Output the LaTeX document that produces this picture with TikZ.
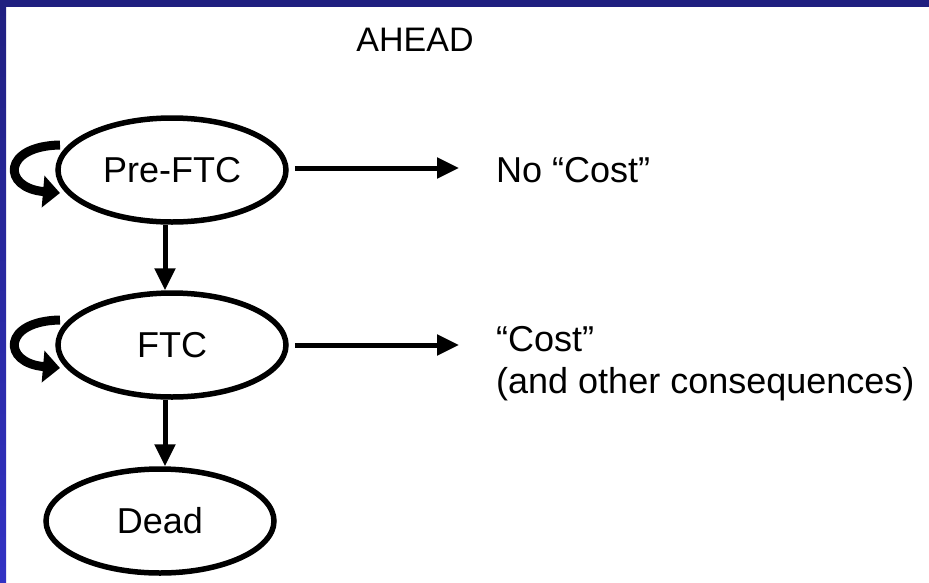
\documentclass[tikz,border=0pt]{standalone}
\usepackage{fontspec}
\setmainfont{Liberation Sans}
\usetikzlibrary{arrows.meta,shapes.geometric}
\definecolor{bandtop}{HTML}{1F1F80}
\definecolor{bandbot}{HTML}{3232C4}
\begin{document}
\begin{tikzpicture}[x=1pt,y=-1pt,
  state/.style={ellipse,draw,line width=5.5pt,minimum width=228pt,minimum height=104pt,inner sep=0pt,font=\fontsize{36}{40}\selectfont},
  lbl/.style={font=\fontsize{36}{40}\selectfont,inner sep=0pt},
  conn/.style={line width=5pt,-{Triangle[length=22pt,width=20pt]}},
  selfloop/.style={line width=9pt,-{Triangle[length=17pt,width=31pt]}}]
\useasboundingbox (0,0) rectangle (929,582);
\fill[white] (0,0) rectangle (929,582);
\shade[top color=bandtop,bottom color=bandbot] (0,0) rectangle (6,582);
\fill[bandtop] (0,0) rectangle (929,7);

\node[lbl,font=\fontsize{34}{40}\selectfont] (title) at (415,40) {AHEAD};
\node[state] (pre) at (172,170) {Pre-FTC};
\node[state] (ftc) at (172,345) {FTC};
\node[state] (dead) at (160,521) {Dead};

\node[lbl,anchor=west] (nocost) at (496,170) {No “Cost”};
\node[lbl,anchor=west,align=left,font=\fontsize{36}{42}\selectfont] (cost) at (496,364) {“Cost”\\(and other consequences)};

\coordinate (vx) at (165,0);
\coordinate (a1e) at (459,168);
\coordinate (a2e) at (459,345);

\draw[conn] ([xshift=6pt]pre.east |- a1e) -- (a1e);
\draw[conn] ([xshift=6pt]ftc.east |- a2e) -- (a2e);
\draw[conn] (pre.south -| vx) -- (ftc.north -| vx);
\draw[conn] (ftc.south -| vx) -- (dead.north -| vx);

\coordinate (l1s) at (60,145);
\coordinate (l1e) at (60,193);
\coordinate (l2s) at (60,320);
\coordinate (l2e) at (60,368);
\draw[selfloop] (l1s) .. controls (2,146) and (2,188) .. (l1e);
\draw[selfloop] (l2s) .. controls (2,321) and (2,363) .. (l2e);
\end{tikzpicture}
\end{document}
